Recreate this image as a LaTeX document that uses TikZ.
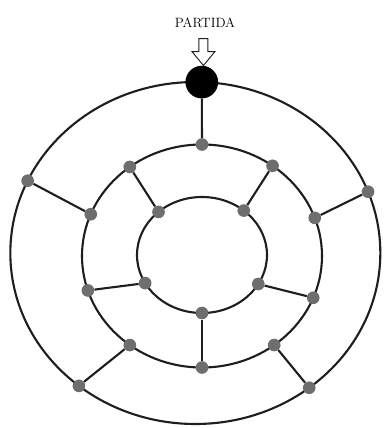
\documentclass[tikz,border=0pt]{standalone}
\usepackage{amsmath,amssymb}
\usetikzlibrary{arrows.meta,positioning}
\definecolor{ringline}{RGB}{30,30,30}
\definecolor{dotgray}{RGB}{110,110,110}

\begin{document}
\begin{tikzpicture}[x=1cm,y=1cm]
\tikzset{
  ring/.style={draw=ringline,line width=1.8pt},
  link/.style={draw=ringline,line width=1.8pt},
  dotnode/.style={circle,fill=dotgray,minimum size=3.8mm,inner sep=0pt},
  startnode/.style={circle,fill=black,minimum size=9.8mm,inner sep=0pt},
  label/.style={font=\fontsize{11.5}{13}\selectfont,inner sep=0pt}
}
\useasboundingbox (-6,-5.19) rectangle (5.58,7.65);
% rings
\draw[ring] (-0.14,0.06) ellipse (5.55 and 5.13);
\draw[ring] (0.06,-0.03) ellipse (3.6 and 3.345);
\draw[ring] (0.06,0) ellipse (1.95 and 1.74);
% outer ring
\node[startnode] (n_o0) at ([shift={(-0.14,0.06)}]88:5.55 and 5.13) {};
\node[dotnode] (n_o1) at ([shift={(-0.14,0.06)}]155:5.55 and 5.13) {};
\node[dotnode] (n_o2) at ([shift={(-0.14,0.06)}]21:5.55 and 5.13) {};
\node[dotnode] (n_o3) at ([shift={(-0.14,0.06)}]231:5.55 and 5.13) {};
\node[dotnode] (n_o4) at ([shift={(-0.14,0.06)}]308:5.55 and 5.13) {};
% middle ring
\node[dotnode] (n_m0) at ([shift={(0.06,-0.03)}]90:3.6 and 3.345) {};
\node[dotnode] (n_m1) at ([shift={(0.06,-0.03)}]127:3.6 and 3.345) {};
\node[dotnode] (n_m2) at ([shift={(0.06,-0.03)}]54:3.6 and 3.345) {};
\node[dotnode] (n_m3) at ([shift={(0.06,-0.03)}]158:3.6 and 3.345) {};
\node[dotnode] (n_m4) at ([shift={(0.06,-0.03)}]20:3.6 and 3.345) {};
\node[dotnode] (n_m5) at ([shift={(0.06,-0.03)}]198:3.6 and 3.345) {};
\node[dotnode] (n_m6) at ([shift={(0.06,-0.03)}]338:3.6 and 3.345) {};
\node[dotnode] (n_m7) at ([shift={(0.06,-0.03)}]233:3.6 and 3.345) {};
\node[dotnode] (n_m8) at ([shift={(0.06,-0.03)}]307:3.6 and 3.345) {};
\node[dotnode] (n_m9) at ([shift={(0.06,-0.03)}]270:3.6 and 3.345) {};
% inner ring
\node[dotnode] (n_i0) at ([shift={(0.06,0)}]132:1.95 and 1.74) {};
\node[dotnode] (n_i1) at ([shift={(0.06,0)}]50:1.95 and 1.74) {};
\node[dotnode] (n_i2) at ([shift={(0.06,0)}]209:1.95 and 1.74) {};
\node[dotnode] (n_i3) at ([shift={(0.06,0)}]330:1.95 and 1.74) {};
\node[dotnode] (n_i4) at ([shift={(0.06,0)}]270:1.95 and 1.74) {};
% spokes
\draw[link] (n_o0) -- (n_m0);
\draw[link] (n_o1) -- (n_m3);
\draw[link] (n_o2) -- (n_m4);
\draw[link] (n_o3) -- (n_m7);
\draw[link] (n_o4) -- (n_m8);
\draw[link] (n_m1) -- (n_i0);
\draw[link] (n_m2) -- (n_i1);
\draw[link] (n_m5) -- (n_i2);
\draw[link] (n_m6) -- (n_i3);
\draw[link] (n_m9) -- (n_i4);
% start marker
\coordinate (arrtip) at ([xshift=0.05cm]n_o0.north);
\draw[ringline,line width=0.8pt] (arrtip) -- ++(0.345,0.42) -- ++(-0.21,0) -- ++(0,0.39)
  -- ++(-0.27,0) -- ++(0,-0.39) -- ++(-0.21,0) -- cycle;
\node[label] (n_start) at (0.15,6.975) {PARTIDA};
\end{tikzpicture}
\end{document}
